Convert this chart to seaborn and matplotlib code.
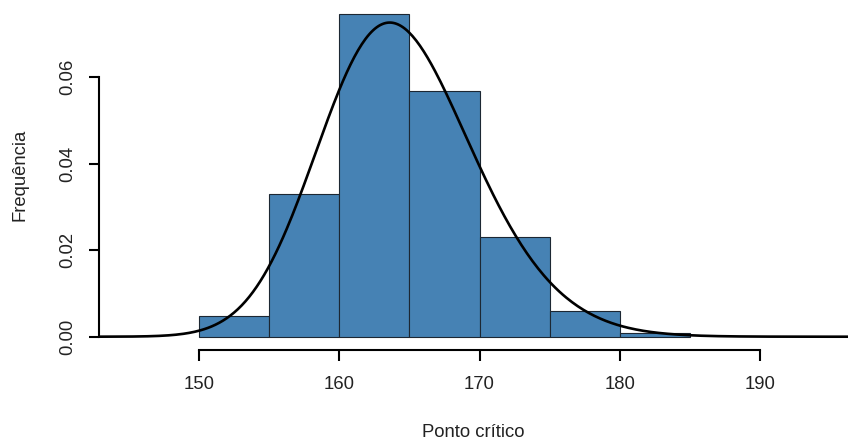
import numpy as np
import pandas as pd
import matplotlib
matplotlib.use("Agg")
import matplotlib.pyplot as plt
import seaborn as sns

# Histogram bins (width 5) and their densities
bin_edges = [150, 155, 160, 165, 170, 175, 180, 185]
densities = [0.0048, 0.0330, 0.0746, 0.0568, 0.0230, 0.0060, 0.0008]

# Skew-normal density overlaid on the histogram: location, scale, shape
sn_loc, sn_scale, sn_shape = 159.53, 7.50, 1.49

x_ticks = [150, 160, 170, 180, 190]
y_ticks = [0.00, 0.02, 0.04, 0.06]
y_tick_labels = ["0.00", "0.02", "0.04", "0.06"]

sns.set_style("ticks")
plt.rcParams["font.family"] = ["Liberation Sans", "DejaVu Sans"]


def erf(x):
    s = np.sign(x)
    x = np.abs(x)
    t = 1 / (1 + 0.3275911 * x)
    y = 1 - (((((1.061405429 * t - 1.453152027) * t) + 1.421413741) * t
              - 0.284496736) * t + 0.254829592) * t * np.exp(-x * x)
    return s * y


def skew_normal_pdf(x, loc, scale, shape):
    z = (x - loc) / scale
    phi = np.exp(-z * z / 2) / np.sqrt(2 * np.pi)
    cdf = 0.5 * (1 + erf(shape * z / np.sqrt(2)))
    return 2 / scale * phi * cdf


fig = plt.figure(figsize=(8.48, 4.47), dpi=100)
ax = fig.add_axes([0.1167, 0.2177, 0.8833, 0.7803])

centers = [(a + b) / 2 for a, b in zip(bin_edges[:-1], bin_edges[1:])]
hist_df = pd.DataFrame({"x": centers, "w": densities})
sns.histplot(data=hist_df, x="x", weights="w", bins=bin_edges, stat="count",
             color="#4682B4", edgecolor="#1c2733", linewidth=0.8, alpha=1.0,
             ax=ax)

xlim = (142.87, 196.27)
xs = np.linspace(xlim[0], xlim[1], 400)
curve_df = pd.DataFrame({"x": xs, "y": skew_normal_pdf(xs, sn_loc, sn_scale, sn_shape)})
sns.lineplot(data=curve_df, x="x", y="y", color="black", linewidth=1.9, ax=ax)

ax.set_xlim(*xlim)
ax.set_ylim(-0.0030, 0.0776)

for side in ("top", "right"):
    ax.spines[side].set_visible(False)
ax.spines["left"].set_bounds(0, 0.06)
ax.spines["bottom"].set_bounds(150, 190)
for side in ("left", "bottom"):
    ax.spines[side].set_linewidth(1.5)
    ax.spines[side].set_color("black")

ax.set_xticks(x_ticks)
ax.set_xticklabels([str(t) for t in x_ticks])
ax.set_yticks(y_ticks)
ax.set_yticklabels(y_tick_labels, rotation=90, va="center")
ax.tick_params(axis="x", length=8, width=1.5, pad=11, labelsize=13.3, colors="black")
ax.tick_params(axis="y", length=7.5, width=1.5, pad=9, labelsize=13.3, colors="black")
for lbl in ax.get_xticklabels() + ax.get_yticklabels():
    lbl.set_color("#222222")

ax.set_xlabel("Ponto crítico", fontsize=13.3, color="#222222", labelpad=22)
ax.set_ylabel("Frequência", fontsize=13.3, color="#222222", labelpad=22)

fig.savefig("out.png", dpi=100)
